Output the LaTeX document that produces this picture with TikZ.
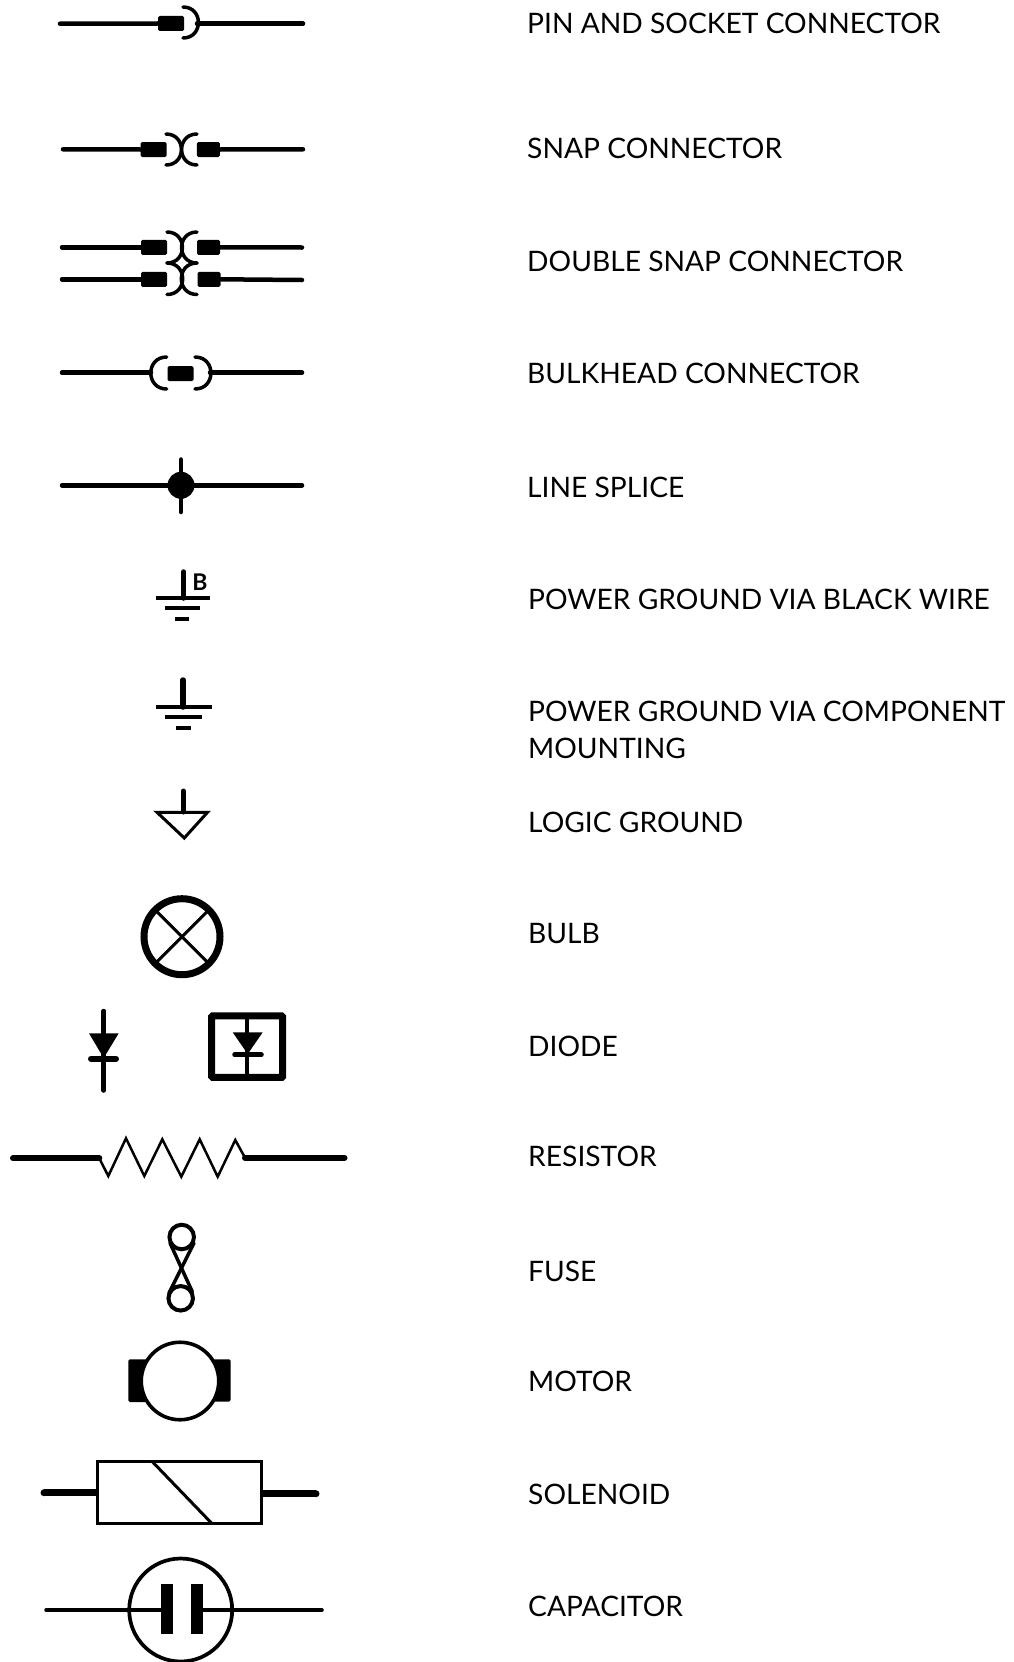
\documentclass[tikz,border=0pt]{standalone}
\usepackage{fontspec}
\setmainfont{Lato}
\usepackage{tikz}

\begin{document}
\begin{tikzpicture}[x=1pt,y=-1pt,
wire/.style={line width=4.5pt, line cap=round},
thickwire/.style={line width=6pt, line cap=round},
thinline/.style={line width=3pt, line cap=round},
socket/.style={line width=3.5pt, line cap=round, looseness=1.7},
plug/.style={rectangle, fill=black, rounded corners=1.5pt, inner sep=0pt, minimum width=26pt, minimum height=15pt},
bar/.style={line width=4pt},
ring/.style={circle, draw, fill=white, inner sep=0pt, outer sep=0pt},
caption/.style={anchor=base west, inner sep=0pt, font=\fontsize{28.2}{28.2}\selectfont}
]
\useasboundingbox (0,0) rectangle (1014,1662);

%Labels
\node[caption] at (527,33.5) (pinText) {PIN AND SOCKET CONNECTOR};
\node[caption] at (527,158.7) (snapText) {SNAP CONNECTOR};
\node[caption] at (527,271.7) (doubleText) {DOUBLE SNAP CONNECTOR};
\node[caption] at (527,383.5) (bulkheadText) {BULKHEAD CONNECTOR};
\node[caption] at (527,497) (spliceText) {LINE SPLICE};
\node[caption] at (528,609) (blackText) {POWER GROUND VIA BLACK WIRE};
\node[caption] at (528,721) (mountText) {POWER GROUND VIA COMPONENT};
\node[caption] at (528,758) (mountTextB) {MOUNTING};
\node[caption] at (528,832.5) (logicText) {LOGIC GROUND};
\node[caption] at (528,943.5) (bulbText) {BULB};
\node[caption] at (528,1056) (diodeText) {DIODE};
\node[caption] at (528,1166.5) (resistorText) {RESISTOR};
\node[caption] at (528,1281) (fuseText) {FUSE};
\node[caption] at (528,1391.5) (motorText) {MOTOR};
\node[caption] at (528,1504.5) (solenoidText) {SOLENOID};
\node[caption] at (528,1616.5) (capacitorText) {CAPACITOR};

%Pin and socket
\node[plug] at (171,23.5) (pinA) {};
\coordinate (pinL) at (60,23.7);
\coordinate (pinR) at (303,23.7);
\coordinate (pinSock) at (197,23.7);
\draw[wire] (pinL) -- (pinA.west);
\draw[wire] (pinSock) -- (pinR);
\draw[socket] (183,7) to[out=0,in=0] (183,38);

%Snap
\node[plug] at (153.7,149.5) (snapA) {};
\node[plug,minimum width=23pt] at (208.3,149.5) (snapB) {};
\coordinate (snapL) at (63,149.3);
\coordinate (snapR) at (303,149.3);
\draw[wire] (snapL) -- (snapA.west);
\draw[wire] (snapB.east) -- (snapR);
\draw[socket] (166,134) to[out=0,in=0] (166,165);
\draw[socket] (197,134) to[out=180,in=180] (197,165);

%Double snap
\node[plug] at (154,247.3) (dblA) {};
\node[plug,minimum width=23pt] at (208.5,247.3) (dblB) {};
\node[plug] at (154,279.3) (dblC) {};
\node[plug,minimum width=23pt] at (209,279.3) (dblD) {};
\coordinate (dblAL) at (62,247.3);
\coordinate (dblBR) at (302,247.5);
\coordinate (dblCL) at (62,279.3);
\coordinate (dblDR) at (302,280);
\draw[wire] (dblAL) -- (dblA.west);
\draw[wire] (dblB.east) -- (dblBR);
\draw[wire] (dblCL) -- (dblC.west);
\draw[wire] (dblD.east) -- (dblDR);
\draw[socket] (167,232) to[out=0,in=0] (167,263);
\draw[socket] (197,232) to[out=180,in=180] (197,263);
\draw[socket] (167,263) to[out=0,in=0] (167,294.5);
\draw[socket] (197,263) to[out=180,in=180] (197,294.5);

%Bulkhead
\node[plug] at (180.5,373.5) (headA) {};
\coordinate (headL) at (62,372.7);
\coordinate (headR) at (302,372.7);
\coordinate (headSockA) at (151,372.7);
\coordinate (headSockB) at (210,372.7);
\draw[wire] (headL) -- (headSockA);
\draw[wire] (headSockB) -- (headR);
\draw[socket] (166.7,357) to[out=180,in=180] (166.7,389);
\draw[socket] (195,357) to[out=0,in=0] (195,389);

%Line splice
\node[circle, fill=black, inner sep=0pt, minimum size=27pt] at (181,485.3) (splice) {};
\coordinate (spliceL) at (62,485.3);
\coordinate (spliceR) at (302,485.3);
\coordinate (spliceT) at (181,459.5);
\coordinate (spliceB) at (181,512);
\draw[wire] (spliceL) -- (spliceR);
\draw[wire] (spliceT) -- (spliceB);

%Power ground via black wire
\coordinate (gndAT) at (183.7,572);
\coordinate (gndAB) at (183.7,598);
\draw[line width=5.5pt, line cap=round] (gndAT) -- (gndAB);
\draw[bar] (155.7,598.3) -- (210,598.3);
\draw[bar] (165,608.3) -- (200,608.3);
\draw[bar] (175,619.3) -- (189,619.3);
\node[inner sep=0pt, font=\fontsize{23}{23}\bfseries\selectfont] at (200,582.5) (gndLetter) {B};

%Power ground via component mounting
\coordinate (gndBT) at (183,680);
\coordinate (gndBB) at (183,707);
\draw[line width=5.5pt, line cap=round] (gndBT) -- (gndBB);
\draw[bar] (156,707.3) -- (211.7,707.3);
\draw[bar] (165.3,717.3) -- (202.3,717.3);
\draw[bar] (176.3,728.3) -- (190.7,728.3);

%Logic ground
\coordinate (logicT) at (183.3,791);
\coordinate (logicB) at (183.3,812);
\draw[line width=5pt, line cap=round] (logicT) -- (logicB);
\draw[line width=3pt, line join=miter] (157,812.3) -- (207.5,812.3) -- (184.3,838) -- cycle;

%Bulb
\node[ring, line width=7pt, minimum size=76pt] at (182,936.7) (bulb) {};
\draw[thinline, line cap=butt] (bulb.45) -- (bulb.225);
\draw[thinline, line cap=butt] (bulb.135) -- (bulb.315);

%Diodes
\coordinate (diodeT) at (103.7,1011);
\coordinate (diodeB) at (103.7,1090.5);
\draw[wire] (diodeT) -- (diodeB);
\fill (89,1033.3) -- (118.7,1033.3) -- (103.7,1058) -- cycle;
\draw[thickwire] (91,1058.7) -- (116,1058.7);

\node[rectangle, draw, line width=7pt, rounded corners=1pt, inner sep=0pt, outer sep=0pt, minimum width=71pt, minimum height=61.5pt] at (247.2,1046.7) (diodeBox) {};
\draw[line width=3.5pt] (diodeBox.north) -- (diodeBox.south);
\fill (232.7,1032.3) -- (262.7,1032.3) -- (247.7,1054) -- cycle;
\draw[wire] (234.5,1054.7) -- (261.5,1054.7);

%Resistor
\coordinate (resL) at (13,1158.3);
\coordinate (resA) at (99.3,1158.3);
\coordinate (resB) at (245,1157.7);
\coordinate (resR) at (344.5,1157.7);
\draw[thickwire] (resL) -- (resA);
\draw[thickwire] (resB) -- (resR);
\draw[line width=2.5pt, line join=miter] (resA) -- (108.3,1176) -- (126,1138.3) -- (144.3,1176) -- (162.3,1139.3) -- (181.3,1176.7) -- (199.7,1139.3) -- (217.7,1176.7) -- (235.3,1140) -- (resB);

%Fuse
\draw[line width=3.5pt, line cap=round] (170,1243) -- (192.3,1291.7);
\draw[line width=3.5pt, line cap=round] (194,1243) -- (169,1293);
\node[ring, line width=4pt, minimum size=24.5pt] at (181.7,1237) (fuseA) {};
\node[ring, line width=4pt, minimum size=24.5pt] at (180.7,1298.3) (fuseB) {};

%Motor
\fill[rounded corners=1.5pt] (128.3,1359.3) rectangle (150,1402);
\fill[rounded corners=1.5pt] (210,1359.3) rectangle (230.7,1401.5);
\node[ring, line width=3.6pt, minimum size=77.5pt] at (180,1381) (motor) {};

%Solenoid
\node[rectangle, draw, line width=3pt, inner sep=0pt, outer sep=0pt, minimum width=164pt, minimum height=62.3pt] at (179.7,1492.2) (solenoid) {};
\coordinate (solL) at (44,1492.7);
\coordinate (solR) at (316,1493.7);
\coordinate (solDiagA) at (151.7,1461);
\coordinate (solDiagB) at (211.7,1523.3);
\draw[line width=7pt] (solL) -- (solenoid.west |- solL);
\draw[line width=7pt] (solenoid.east |- solR) -- (solR);
\fill (solL) circle (3.5pt);
\fill (solR) circle (3.5pt);
\draw[line width=3pt] (solDiagA) -- (solDiagB);

%Capacitor
\node[ring, line width=3.7pt, minimum size=103pt] at (180.7,1610) (capacitor) {};
\node[rectangle, fill=black, inner sep=0pt, minimum width=12pt, minimum height=50pt] at (166.7,1609) (capA) {};
\node[rectangle, fill=black, inner sep=0pt, minimum width=12pt, minimum height=50pt] at (197,1609) (capB) {};
\coordinate (capL) at (46,1610);
\coordinate (capR) at (322,1610);
\draw[line width=3.5pt, line cap=round] (capL) -- (capA.west |- capL);
\draw[line width=3.5pt, line cap=round] (capB.east |- capR) -- (capR);

\end{tikzpicture}
\end{document}
